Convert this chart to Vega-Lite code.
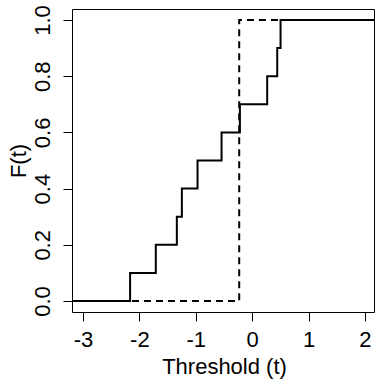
{
  "$schema": "https://vega.github.io/schema/vega-lite/v6.json",
  "width": 302,
  "height": 303,
  "autosize": "none",
  "padding": {"left": 72, "top": 9, "right": 1, "bottom": 67},
  "background": "white",
  "config": {
    "view": {"stroke": "black", "strokeWidth": 1},
    "font": "Liberation Sans",
    "axis": {
      "grid": false,
      "domain": false,
      "tickColor": "black",
      "tickWidth": 1,
      "tickSize": 9,
      "labelColor": "black",
      "titleColor": "black",
      "labelFont": "Liberation Sans",
      "titleFont": "Liberation Sans",
      "labelFontSize": 22,
      "titleFontSize": 22,
      "titleFontWeight": "normal"
    }
  },
  "datasets": {
    "ecdf": [
      {"t": -3.195, "F": 0.0, "curve": "empirical"},
      {"t": -2.165, "F": 0.1, "curve": "empirical"},
      {"t": -1.709, "F": 0.2, "curve": "empirical"},
      {"t": -1.336, "F": 0.3, "curve": "empirical"},
      {"t": -1.247, "F": 0.4, "curve": "empirical"},
      {"t": -0.969, "F": 0.5, "curve": "empirical"},
      {"t": -0.543, "F": 0.6, "curve": "empirical"},
      {"t": -0.218, "F": 0.7, "curve": "empirical"},
      {"t": 0.266, "F": 0.8, "curve": "empirical"},
      {"t": 0.444, "F": 0.9, "curve": "empirical"},
      {"t": 0.503, "F": 1.0, "curve": "empirical"},
      {"t": 2.16, "F": 1.0, "curve": "empirical"},
      {"t": -3.195, "F": 0.0, "curve": "point"},
      {"t": -0.23, "F": 1.0, "curve": "point"},
      {"t": 2.16, "F": 1.0, "curve": "point"}
    ]
  },
  "data": {"name": "ecdf"},
  "encoding": {
    "x": {
      "field": "t",
      "type": "quantitative",
      "scale": {"domain": [-3.195, 2.16], "nice": false, "zero": false},
      "axis": {
        "title": "Threshold (t)",
        "values": [-3, -2, -1, 0, 1, 2],
        "labelExpr": "'' + datum.value",
        "labelBaseline": "alphabetic",
        "labelPadding": 25,
        "titleBaseline": "alphabetic",
        "titleAlign": "center",
        "titleX": 152,
        "titleY": 61,
        "labelFlush": false
      }
    },
    "y": {
      "field": "F",
      "type": "quantitative",
      "scale": {"domain": [-0.039, 1.039], "nice": false, "zero": false},
      "axis": {
        "title": "F(t)",
        "values": [0, 0.2, 0.4, 0.6, 0.8, 1.0],
        "format": ".1f",
        "labelAngle": -90,
        "labelAlign": "center",
        "labelBaseline": "alphabetic",
        "labelPadding": 14,
        "titleAngle": -90,
        "titleAlign": "center",
        "titleBaseline": "alphabetic",
        "titleX": -47,
        "titleY": 151.5,
        "labelFlush": false
      }
    }
  },
  "layer": [
    {
      "transform": [{"filter": "datum.curve === 'point'"}],
      "mark": {"type": "line", "interpolate": "step-after", "color": "black", "strokeWidth": 2, "strokeDash": [7, 5], "clip": true}
    },
    {
      "transform": [{"filter": "datum.curve === 'empirical'"}],
      "mark": {"type": "line", "interpolate": "step-after", "color": "black", "strokeWidth": 2, "clip": true}
    }
  ]
}
